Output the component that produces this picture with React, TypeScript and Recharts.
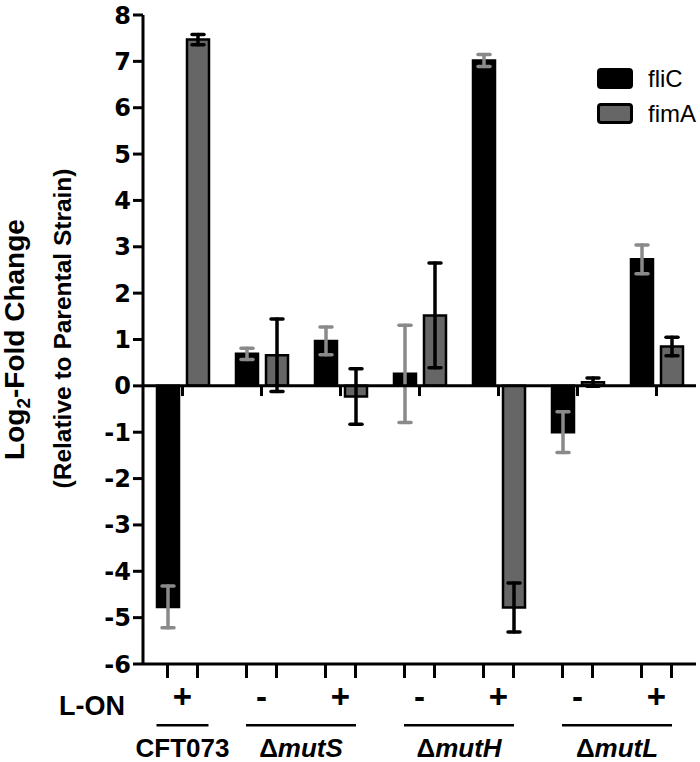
import { BarChart, Bar, XAxis, YAxis, ErrorBar, ReferenceLine, Legend, Label } from 'recharts';

// Groups along the x axis (strain + L-ON state)
const groups = ['CFT073 +', 'mutS -', 'mutS +', 'mutH -', 'mutH +', 'mutL -', 'mutL +'];
const lOn = ['+', '-', '+', '-', '+', '-', '+'];
const strains = ['CFT073', 'mutS', 'mutS', 'mutH', 'mutH', 'mutL', 'mutL'];

// Log2-fold change and error
const fliC = [-4.77, 0.69, 0.97, 0.26, 7.02, -1.0, 2.73];
const fliCErr = [0.45, 0.12, 0.3, 1.05, 0.13, 0.44, 0.31];
const fimA = [7.47, 0.66, -0.23, 1.52, -4.78, 0.08, 0.85];
const fimAErr = [0.11, 0.78, 0.6, 1.13, 0.53, 0.09, 0.2];

const yTicks = [-6, -5, -4, -3, -2, -1, 0, 1, 2, 3, 4, 5, 6, 7, 8];

const series = [
  { key: 'fliC', name: 'fliC', fill: '#000000', err: '#8a8a8a' },
  { key: 'fimA', name: 'fimA', fill: '#666666', err: '#000000' },
];

const data = groups.map((g, i) => ({
  group: g,
  fliC: fliC[i],
  fliCErr: fliCErr[i],
  fimA: fimA[i],
  fimAErr: fimAErr[i],
}));

const W = 700;
const H = 762;
const MARGIN = { top: 15, right: 4, bottom: 0, left: 0 };
const Y_AXIS_W = 143;
const X_AXIS_H = 98;
const BAR_SIZE = 22;
const BAR_GAP = 8;
const PLOT_W = W - MARGIN.left - MARGIN.right - Y_AXIS_W;
const STEP = PLOT_W / groups.length;

const ARIAL = 'Liberation Sans, Arial, sans-serif';

// bottom axis: tick marks under each bar, L-ON sign, strain underline + name
function GroupTick(props: any) {
  const x = Number(props.x);
  const y = Number(props.y);
  const index = props.index;
  const half = (BAR_SIZE + BAR_GAP) / 2;
  const strain = strains[index];
  let strainLabel = null;
  if (index === 0 || strains[index - 1] !== strain) {
    let n = 1;
    while (strains[index + n] === strain) n++;
    const mid = x + ((n - 1) * STEP) / 2;
    const lineHalf = n === 1 ? 26 : 55;
    strainLabel = (
      <g>
        <rect x={mid - lineHalf} y={y + 60} width={lineHalf * 2} height={2.5} fill="#000" />
        <text x={mid} y={y + 93} textAnchor="middle" fontFamily={ARIAL} fontWeight={700} fontSize={26} fill="#000">
          {strain === 'CFT073' ? (
            'CFT073'
          ) : (
            <>
              <tspan>Δ</tspan>
              <tspan fontStyle="italic">{strain}</tspan>
            </>
          )}
        </text>
      </g>
    );
  }
  return (
    <g>
      <rect x={x - half - 1.5} y={y} width={3} height={14} fill="#000" />
      <rect x={x + half - 1.5} y={y} width={3} height={14} fill="#000" />
      <text x={x} y={y + 44} textAnchor="middle" fontFamily={ARIAL} fontWeight={700} fontSize={33} fill="#000">
        {lOn[index]}
      </text>
      {strainLabel}
    </g>
  );
}

function YTitle(props: any) {
  const { viewBox } = props;
  const cy = viewBox.y + viewBox.height / 2;
  const t1x = 24;
  const t2x = 71;
  const c2 = cy - 11;
  return (
    <g>
      <text
        x={t1x}
        y={cy}
        transform={`rotate(-90 ${t1x} ${cy})`}
        textAnchor="middle"
        fontFamily={ARIAL}
        fontWeight={700}
        fontSize={28}
        fill="#000"
      >
        <tspan>Log</tspan>
        <tspan fontSize={19} dy={6}>2</tspan>
        <tspan dy={-6}>-Fold Change</tspan>
      </text>
      <text
        x={t2x}
        y={c2}
        transform={`rotate(-90 ${t2x} ${c2})`}
        textAnchor="middle"
        fontFamily={ARIAL}
        fontWeight={700}
        fontSize={24.5}
        fill="#000"
      >
        (Relative to Parental Strain)
      </text>
    </g>
  );
}

function LOnLabel(props: any) {
  const { viewBox } = props;
  return (
    <text x={viewBox.x - 18} y={viewBox.y + 51} textAnchor="end" fontFamily={ARIAL} fontWeight={700} fontSize={27} fill="#000">
      L-ON
    </text>
  );
}

function renderLegend() {
  return (
    <div style={{ fontFamily: ARIAL }}>
      {series.map((s) => (
        <div key={s.key} style={{ display: 'flex', alignItems: 'center', height: 35 }}>
          <div
            style={{
              width: 36,
              height: 21,
              boxSizing: 'border-box',
              border: '3px solid #000',
              borderRadius: 4,
              background: s.fill,
              marginRight: 15,
            }}
          />
          <span style={{ fontSize: 24, color: '#000' }}>{s.name}</span>
        </div>
      ))}
    </div>
  );
}

export default function App() {
  return (
    <div style={{ position: 'absolute', left: 0, top: 0, width: W, height: H, background: '#fff' }}>
      <BarChart width={W} height={H} data={data} margin={MARGIN} barSize={BAR_SIZE} barGap={BAR_GAP}>
        <XAxis
          dataKey="group"
          height={X_AXIS_H}
          interval={0}
          axisLine={{ stroke: '#000', strokeWidth: 3 }}
          tickLine={false}
          tickSize={0}
          tickMargin={0}
          tick={<GroupTick />}
        >
          <Label content={<LOnLabel />} />
        </XAxis>
        <YAxis
          width={Y_AXIS_W}
          domain={[-6, 8]}
          ticks={yTicks}
          interval={0}
          axisLine={{ stroke: '#000', strokeWidth: 3 }}
          tickLine={{ stroke: '#000', strokeWidth: 3 }}
          tickSize={10}
          tickMargin={2}
          tick={{ fill: '#000', fontSize: 24, fontWeight: 700, fontFamily: 'DejaVu Sans, sans-serif' }}
        >
          <Label content={<YTitle />} />
        </YAxis>
        <Legend
          layout="vertical"
          align="center"
          verticalAlign="middle"
          content={renderLegend}
          wrapperStyle={{ top: 61, left: 597, width: 'auto' }}
        />
        {series.map((s) => (
          <Bar key={s.key} dataKey={s.key} name={s.name} fill={s.fill} stroke="#000" strokeWidth={2.5} isAnimationActive={false}>
            <ErrorBar dataKey={`${s.key}Err`} width={6} stroke={s.err} strokeWidth={3.5} strokeLinecap="round" />
          </Bar>
        ))}
        <ReferenceLine y={0} stroke="#000" strokeWidth={3} />
        {/* small ticks under the zero line at each group centre */}
        {groups.map((g) => (
          <ReferenceLine
            key={g}
            ifOverflow="visible"
            segment={[
              { x: g, y: 0 },
              { x: g, y: -0.22 },
            ]}
            stroke="#000"
            strokeWidth={3}
          />
        ))}
      </BarChart>
    </div>
  );
}
